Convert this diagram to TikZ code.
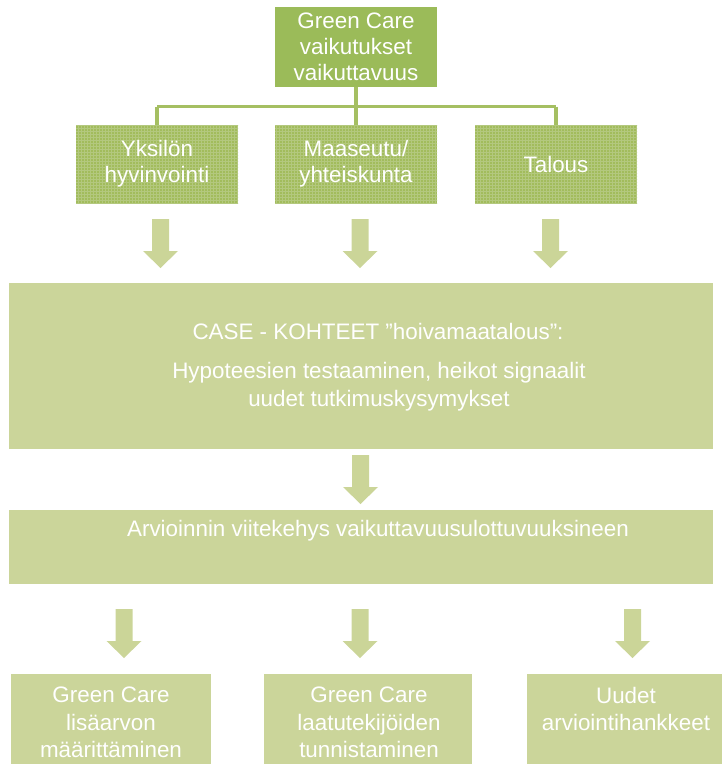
\documentclass[tikz,border=0pt]{standalone}
\usepackage{fontspec}
\setmainfont{Liberation Sans}
\usetikzlibrary{patterns}
\definecolor{darkolive}{HTML}{9BBB59}
\definecolor{midolive}{HTML}{A2BC5C}
\definecolor{gridcol}{HTML}{B3C87E}
\definecolor{lightolive}{HTML}{CBD59A}
\definecolor{arrowcol}{HTML}{CBD598}
\definecolor{linecol}{HTML}{A5BF62}
\tikzset{
  txt/.style={font=\fontsize{22.4}{26}\selectfont, text=white, align=center, inner sep=0pt},
  wtxt/.style={txt, font=\fontsize{22.4}{27.5}\selectfont},
  topbox/.style={txt, fill=darkolive, minimum width=162pt, minimum height=80pt},
  midbox/.style={txt, fill=midolive, postaction={pattern=grid, pattern color=gridcol}, minimum width=162pt, minimum height=78pt},
  lightbox/.style={fill=lightolive, inner sep=0pt},
  conn/.style={draw=linecol, line width=3.5pt},
  downarrow/.pic={\fill[arrowcol] (-8.5,0) -- (8.5,0) -- (8.5,32) -- (17.5,32) -- (0,49) -- (-17.5,32) -- (-8.5,32) -- cycle;}
}
\begin{document}
\begin{tikzpicture}[x=1pt, y=-1pt]
\useasboundingbox (0,0) rectangle (722,764);
% top
\node[topbox] (top) at (356,47) {Green Care\\vaikutukset\\vaikuttavuus};
% middle row
\node[midbox] (b1) at (157,164) {Yksilön\\hyvinvointi};
\node[midbox] (b2) at (356,164) {Maaseutu/\\yhteiskunta};
\node[midbox] (b3) at (556,164) {Talous};
% connectors
\coordinate (hub) at (356,106.5);
\draw[conn] (top.south) -- (hub);
\draw[conn] (b1.north |- hub) -- (b3.north |- hub);
\draw[conn] (b1.north |- hub) -- (b1.north);
\draw[conn] (b2.north |- hub) -- (b2.north);
\draw[conn] (b3.north |- hub) -- (b3.north);
% arrows row 1
\pic at (160.5,219) {downarrow};
\pic at (360,219) {downarrow};
\pic at (550.5,219) {downarrow};
% big box
\node[lightbox, minimum width=704pt, minimum height=166pt] (case) at (361,366) {};
\node[txt] (caseT) at (378,331) {CASE - KOHTEET ”hoivamaatalous”:};
\node[wtxt] (hypT) at (379,386.5) {Hypoteesien testaaminen, heikot signaalit\\uudet tutkimuskysymykset};
% arrow row 2
\pic at (360.5,455) {downarrow};
% framework box
\node[lightbox, minimum width=704pt, minimum height=74pt] (frame) at (361,547) {};
\node[txt] (frameT) at (378,531) {Arvioinnin viitekehys vaikuttavuusulottuvuuksineen};
% arrows row 3
\pic at (124,609) {downarrow};
\pic at (360,609) {downarrow};
\pic at (632.5,609) {downarrow};
% bottom boxes
\node[lightbox, minimum width=200pt, minimum height=90pt] (c1) at (111,719) {};
\node[lightbox, minimum width=208pt, minimum height=90pt] (c2) at (368,719) {};
\node[lightbox, minimum width=195pt, minimum height=90pt] (c3) at (624.5,719) {};
\node[wtxt] (c1T) at (111,722.5) {Green Care\\lisäarvon\\määrittäminen};
\node[wtxt] (c2T) at (369,722.5) {Green Care\\laatutekijöiden\\tunnistaminen};
\node[wtxt] (c3T) at (626,709) {Uudet\\arviointihankkeet};
\end{tikzpicture}
\end{document}
